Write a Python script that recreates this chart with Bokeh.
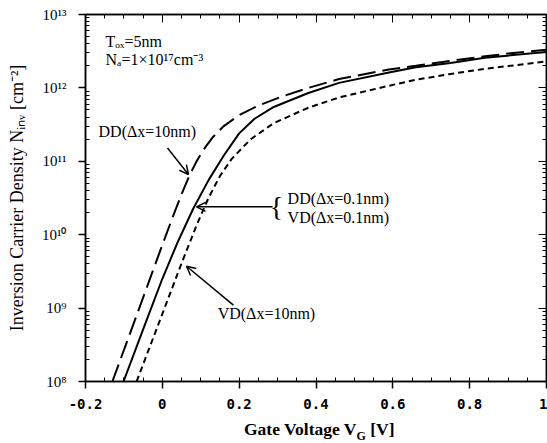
from bokeh.plotting import figure
from bokeh.layouts import column
from bokeh.models import (FixedTicker, LinearAxis, LogAxis, Label, Arrow, OpenHead, Range1d, Div)
from bokeh.embed import file_html
from bokeh.resources import INLINE

# ---------------- data ----------------
# DD (dx = 10 nm) : long dashed
v_dd10 = [-0.130, -0.067, -0.005, 0.030, 0.050, 0.070, 0.090, 0.110, 0.130, 0.160, 0.200,
          0.250, 0.310, 0.380, 0.460, 0.590, 0.660, 0.750, 0.840, 0.920, 1.000]
n_dd10 = [1.0e8, 7.94e8, 6.17e9, 1.91e10, 3.55e10, 6.31e10, 1.02e11, 1.51e11, 2.09e11,
          3.02e11, 4.27e11, 5.75e11, 7.59e11, 1.00e12, 1.32e12, 1.78e12, 2.00e12,
          2.34e12, 2.69e12, 3.02e12, 3.31e12]

# DD / VD (dx = 0.1 nm) : solid
v_01 = [-0.101, -0.050, 0.000, 0.040, 0.080, 0.120, 0.160, 0.200, 0.240, 0.290,
        0.380, 0.460, 0.590, 0.660, 0.750, 0.840, 0.920, 1.000]
n_01 = [1.0e8, 5.13e8, 2.51e9, 7.94e9, 2.24e10, 5.50e10, 1.20e11, 2.40e11, 3.80e11, 5.50e11,
        8.51e11, 1.17e12, 1.62e12, 1.91e12, 2.19e12, 2.57e12, 2.82e12, 3.09e12]

# VD (dx = 10 nm) : short dashed
v_vd10 = [-0.067, 0.000, 0.050, 0.090, 0.120, 0.150, 0.180, 0.230, 0.290, 0.380,
          0.460, 0.590, 0.660, 0.750, 0.840, 0.920, 1.000]
n_vd10 = [1.0e8, 8.32e8, 4.07e9, 1.38e10, 3.16e10, 6.31e10, 1.07e11, 2.00e11, 3.31e11,
          5.37e11, 7.41e11, 1.07e12, 1.29e12, 1.55e12, 1.82e12, 2.04e12, 2.29e12]

x_tick_values = [-0.2, 0.0, 0.2, 0.4, 0.6, 0.8, 1.0]
x_tick_labels = ["-0.2", "0", "0.2", "0.4", "0.6", "0.8", "1"]
y_tick_values = [1e8, 1e9, 1e10, 1e11, 1e12, 1e13]
y_tick_labels = ["10\u2078", "10\u2079", "10\u00b9\u2070", "10\u00b9\u00b9", "10\u00b9\u00b2", "10\u00b9\u00b3"]

x_minor = [round(-0.2 + 0.05 * i, 2) for i in range(25)]
y_minor = [m * 10.0 ** e for e in range(8, 13) for m in range(2, 10)]

SERIF = "Liberation Serif"

p = figure(width=547, height=418, output_backend="svg", toolbar_location=None,
           x_axis_type="linear", y_axis_type="log",
           x_range=Range1d(-0.2, 1.0), y_range=Range1d(1e8, 1e13),
           min_border_left=85, min_border_right=1, min_border_top=14, min_border_bottom=37,
           margin=(0, 0, 0, 0))
p.background_fill_color = "white"
p.border_fill_color = "white"
p.outline_line_color = "black"
p.outline_line_width = 1.5
p.xgrid.visible = False
p.ygrid.visible = False

xt = FixedTicker(ticks=x_tick_values, minor_ticks=x_minor)
yt = FixedTicker(ticks=y_tick_values, minor_ticks=y_minor)

xa = p.xaxis[0]
xa.ticker = xt
xa.major_label_overrides = {v: l for v, l in zip(x_tick_values, x_tick_labels)}
xa.major_label_text_font = "DejaVu Sans Mono"
xa.major_label_text_font_style = "bold"
xa.major_label_text_font_size = "14px"
xa.major_label_text_color = "black"
xa.major_label_standoff = 10
xa.major_tick_out = 7
xa.major_tick_in = 0
xa.minor_tick_in = 4
xa.minor_tick_out = 0
xa.axis_line_width = 1.5
xa.major_tick_line_width = 1.5

ya = p.yaxis[0]
ya.ticker = yt
ya.major_label_overrides = {v: l for v, l in zip(y_tick_values, y_tick_labels)}
ya.major_label_text_font = SERIF
ya.major_label_text_font_size = "15px"
ya.major_label_text_color = "black"
ya.major_label_standoff = 12
ya.major_tick_out = 7
ya.major_tick_in = 0
ya.minor_tick_in = 4
ya.minor_tick_out = 0
ya.axis_line_width = 1.5
ya.major_tick_line_width = 1.5
ya.axis_label = "Inversion Carrier Density N\u1d62\u2099\u1d65 [cm\u207b\u00b2]"
ya.axis_label_text_font = SERIF
ya.axis_label_text_font_style = "normal"
ya.axis_label_text_font_size = "18px"
ya.axis_label_text_color = "black"
ya.axis_label_standoff = 12

top = LinearAxis(ticker=xt, major_label_text_font_size="1px", major_label_text_alpha=0,
                 major_label_standoff=0,
                 major_tick_in=8, major_tick_out=0, minor_tick_in=4, minor_tick_out=0,
                 axis_line_width=1.5)
right = LogAxis(ticker=yt, major_label_text_font_size="1px", major_label_text_alpha=0,
                major_label_standoff=0,
                major_tick_in=8, major_tick_out=0, minor_tick_in=4, minor_tick_out=0,
                axis_line_width=1.5)
p.add_layout(top, "above")
p.add_layout(right, "right")

p.line(v_dd10, n_dd10, line_color="black", line_width=2, line_dash="18 7")
p.line(v_01, n_01, line_color="black", line_width=2)
p.line(v_vd10, n_vd10, line_color="black", line_width=2, line_dash="6 4")

def lab(text, x, y, size="16px", align="left", baseline="middle", style="normal"):
    p.add_layout(Label(x=x, y=y, text=text, text_font=SERIF, text_font_size=size,
                       text_align=align, text_baseline=baseline, text_font_style=style,
                       text_color="black"))

lab("T\u2092\u2093=5nm", -0.148, 10 ** 12.63)
lab("N\u2090=1\u00d710\u00b9\u2077cm\u207b\u00b3", -0.148, 10 ** 12.385)
lab("DD(\u0394x=10nm)", -0.166, 10 ** 11.40)
lab("DD(\u0394x=0.1nm)", 0.326, 10 ** 10.49)
lab("VD(\u0394x=0.1nm)", 0.326, 10 ** 10.23)
lab("VD(\u0394x=10nm)", 0.144, 10 ** 8.93)
lab("{", 0.297, 10 ** 10.38, size="28px", align="center")

def arrow(x0, y0, x1, y1):
    p.add_layout(Arrow(end=OpenHead(size=9, line_width=1.5, line_color="black"),
                       x_start=x0, y_start=y0, x_end=x1, y_end=y1,
                       line_color="black", line_width=1.5))

arrow(0.0135, 10 ** 11.18, 0.068, 10 ** 10.82)
arrow(0.287, 10 ** 10.38, 0.089, 10 ** 10.38)
arrow(0.185, 10 ** 9.04, 0.063, 10 ** 9.57)

# x-axis title (with subscript) below the figure
xtitle = Div(text="Gate Voltage V<sub style='font-size:12px'>G</sub> [V]",
             width=547, height=25, margin=(0, 0, 0, 0),
             styles={"font-family": SERIF, "font-size": "17.5px", "font-weight": "bold",
                     "padding-left": "244px", "line-height": "22px", "color": "black"})

layout = column(p, xtitle, spacing=0, margin=(0, 0, 0, 0))

open("out.html", "w").write(file_html(layout, INLINE))
